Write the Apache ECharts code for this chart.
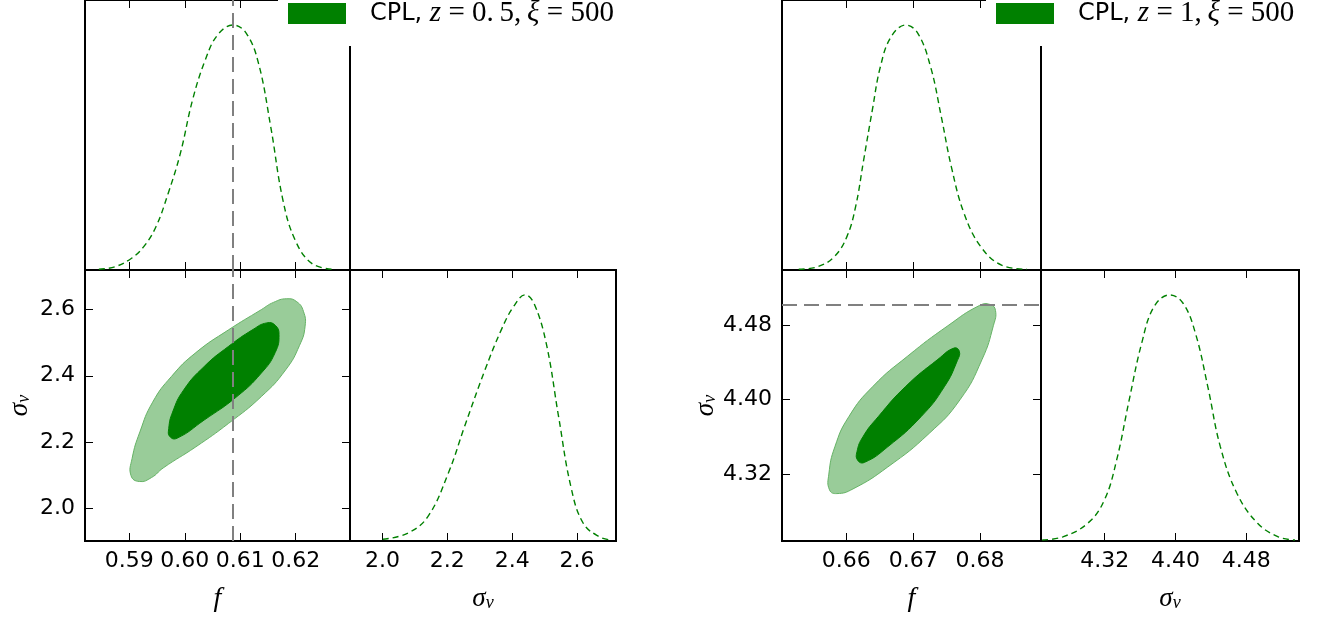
<!DOCTYPE html>
<html><head><meta charset="utf-8">
<script src="https://cdn.jsdelivr.net/npm/echarts@6/dist/echarts.min.js"></script>
<style>html,body{margin:0;padding:0;background:#fff}#c{width:1332px;height:621px}</style>
</head><body><div id="c"></div>
<script>
// ---------- DATA ----------
const legendA = 'CPL, z=0.5, ξ=500';
const legendB = 'CPL, z=1, ξ=500';
const fTicksA = [0.59, 0.60, 0.61, 0.62];
const sTicksA = [2.0, 2.2, 2.4, 2.6];
const fTicksB = [0.66, 0.67, 0.68];
const sTicksB = [4.32, 4.40, 4.48];
const fTrueA = 0.6087;      // fiducial f (left)
const sTrueB = 4.5025;      // fiducial sigma_v (right)

// 1D marginal of f (left), [f, P/Pmax]
const fMargA = [[0.5845,0.003],[0.5874,0.013],[0.5904,0.048],[0.5926,0.095],[0.5948,0.176],[0.5970,0.312],
  [0.5992,0.475],[0.6014,0.693],[0.6037,0.856],[0.6059,0.957],[0.6087,0.998],[0.6111,0.964],[0.6133,0.842],
  [0.6155,0.584],[0.6177,0.285],[0.6199,0.122],[0.6229,0.027],[0.6266,0.003]];
// 1D marginal of sigma_v (left)
const sMargA = [[2.001,0.007],[2.077,0.031],[2.140,0.099],[2.203,0.275],[2.253,0.464],[2.316,0.694],
  [2.366,0.856],[2.404,0.951],[2.440,0.999],[2.467,0.965],[2.505,0.802],[2.543,0.505],[2.581,0.220],
  [2.619,0.072],[2.669,0.017],[2.706,0.004]];
// 2D contours (left): 95% and 68%, [f, sigma_v]
const outerA = [[0.5903,2.098],[0.5918,2.080],[0.5940,2.092],[0.5961,2.121],[0.6020,2.185],[0.6079,2.256],[0.6138,2.337],
  [0.6182,2.418],[0.6207,2.492],[0.6217,2.550],[0.6214,2.595],[0.6202,2.624],[0.6184,2.633],[0.6160,2.622],[0.6138,2.600],
  [0.6079,2.539],[0.6020,2.470],[0.5976,2.398],[0.5942,2.320],[0.5919,2.230],[0.5905,2.150]];
const innerA = [[0.5973,2.216],[0.5986,2.211],[0.6035,2.266],[0.6094,2.337],[0.6138,2.408],[0.6163,2.470],
  [0.6170,2.525],[0.6163,2.553],[0.6148,2.560],[0.6123,2.540],[0.6079,2.489],[0.6035,2.428],[0.5998,2.357],
  [0.5978,2.290],[0.5971,2.240]];

// 1D marginal of f (right)
const fMargB = [[0.6529,0.003],[0.6557,0.013],[0.6582,0.054],[0.6601,0.136],[0.6614,0.258],[0.6626,0.448],
  [0.6639,0.652],[0.6651,0.828],[0.6667,0.950],[0.6689,0.998],[0.6707,0.964],[0.6726,0.828],[0.6742,0.625],
  [0.6757,0.421],[0.6776,0.231],[0.6801,0.095],[0.6832,0.020],[0.6870,0.003]];
// 1D marginal of sigma_v (right)
const sMargB = [[4.2494,0.004],[4.2727,0.017],[4.3008,0.072],[4.3196,0.166],[4.3335,0.329],[4.3476,0.572],
  [4.3617,0.802],[4.3757,0.951],[4.3935,0.999],[4.4085,0.965],[4.4225,0.843],[4.4365,0.626],[4.4506,0.383],
  [4.4693,0.194],[4.4927,0.072],[4.5161,0.017],[4.5349,0.004]];
// 2D contours (right)
const outerB = [[0.6575,4.3030],[0.6586,4.2990],[0.6610,4.3040],[0.6662,4.3276],[0.6724,4.3638],[0.6770,4.4000],
  [0.6803,4.4434],[0.6820,4.4800],[0.6823,4.4960],[0.6815,4.5024],[0.6799,4.5013],[0.6752,4.4796],
  [0.6692,4.4470],[0.6640,4.4144],[0.6604,4.3819],[0.6583,4.3493],[0.6574,4.3200]];
const innerB = [[0.6617,4.3349],[0.6627,4.3325],[0.6662,4.3493],[0.6712,4.3819],[0.6747,4.4144],[0.6766,4.4420],
  [0.6769,4.4520],[0.6761,4.4555],[0.6737,4.4434],[0.6689,4.4144],[0.6648,4.3819],[0.6625,4.3602],[0.6616,4.3440]];

// axis ranges
const fRangeA = [0.582, 0.6298], sRangeA = [1.9, 2.72];
const fRangeB = [0.6504, 0.6891], sRangeB = [4.248, 4.5395];
const pRange = [0, 1.1];

// ---------- STYLE / LAYOUT ----------
const GREEN = '#008000', LIGHT = '#99cc99', GRAY = '#808080';
const tickFont = {color:'#000', fontSize:22, fontFamily:'DejaVu Sans'};
const mathRich = {
  s:{fontFamily:'Liberation Serif', fontStyle:'italic', fontSize:27, color:'#000'},
  v:{fontFamily:'Liberation Serif', fontStyle:'italic', fontSize:18, color:'#000', verticalAlign:'bottom'},
  f:{fontFamily:'Liberation Serif', fontStyle:'italic', fontSize:28, color:'#000'}
};
const gridBox = {show:true, borderColor:'#000', borderWidth:2, backgroundColor:'transparent', containLabel:false};
const grids = [
  {left:85, top:0, width:265, height:270},
  {left:85, top:270, width:265, height:271},
  {left:350, top:270, width:266, height:271},
  {left:782, top:0, width:259, height:270},
  {left:782, top:270, width:259, height:271},
  {left:1041, top:270, width:258, height:271}
].map(g => Object.assign({}, gridBox, g));

function xAx(gi, range, ticks, pos, labels, dec, name) {
  const a = {type:'value', gridIndex:gi, position:pos, min:range[0], max:range[1],
    axisLine:{show:false}, splitLine:{show:false},
    axisTick:{show:true, inside:true, length:8, customValues:ticks, lineStyle:{color:'#000', width:1}},
    axisLabel:{show:labels, customValues:ticks, margin:9, formatter:v => v.toFixed(dec), ...tickFont}};
  if (name) { a.name = name; a.nameLocation = 'middle'; a.nameGap = 44; a.nameTextStyle = {rich:mathRich}; }
  return a;
}
function yAx(gi, range, ticks, pos, labels, dec, name) {
  if (!ticks) return {type:'value', gridIndex:gi, min:range[0], max:range[1], show:false};
  const a = {type:'value', gridIndex:gi, position:pos, min:range[0], max:range[1],
    axisLine:{show:false}, splitLine:{show:false},
    axisTick:{show:true, inside:true, length:8, customValues:ticks, lineStyle:{color:'#000', width:1}},
    axisLabel:{show:labels, customValues:ticks, margin:10, formatter:v => v.toFixed(dec), ...tickFont}};
  if (name) { a.name = name; a.nameLocation = 'middle'; a.nameGap = 52; a.nameRotate = 90; a.nameTextStyle = {rich:mathRich}; }
  return a;
}
const sigName = '{s|σ}{v|v}', fName = '{f|f}';
const xAxis = [
  xAx(0, fRangeA, fTicksA, 'bottom', false, 2), xAx(0, fRangeA, fTicksA, 'top', false, 2),
  xAx(1, fRangeA, fTicksA, 'bottom', true, 2, fName), xAx(1, fRangeA, fTicksA, 'top', false, 2),
  xAx(2, sRangeA, sTicksA, 'bottom', true, 1, sigName), xAx(2, sRangeA, sTicksA, 'top', false, 1),
  xAx(3, fRangeB, fTicksB, 'bottom', false, 2), xAx(3, fRangeB, fTicksB, 'top', false, 2),
  xAx(4, fRangeB, fTicksB, 'bottom', true, 2, fName), xAx(4, fRangeB, fTicksB, 'top', false, 2),
  xAx(5, sRangeB, sTicksB, 'bottom', true, 2, sigName), xAx(5, sRangeB, sTicksB, 'top', false, 2)
];
const yAxis = [
  yAx(0, pRange),
  yAx(1, sRangeA, sTicksA, 'left', true, 1, sigName), yAx(1, sRangeA, sTicksA, 'right', false, 1),
  yAx(2, pRange),
  yAx(3, pRange),
  yAx(4, sRangeB, sTicksB, 'left', true, 2, sigName), yAx(4, sRangeB, sTicksB, 'right', false, 2),
  yAx(5, pRange)
];

function marg(data, xi, yi) {
  return {type:'line', xAxisIndex:xi, yAxisIndex:yi, data, smooth:0.4, showSymbol:false, symbol:'none',
    lineStyle:{color:GREEN, width:1.4, type:[6,4]}, silent:true, z:3};
}
function contour(name, pts, xi, yi, fill, stroke, z) {
  return {type:'custom', name, xAxisIndex:xi, yAxisIndex:yi, z, itemStyle:{color:fill}, silent:true,
    data:[[0,0]], clip:true,
    renderItem:(p, api) => ({type:'polygon', shape:{points:pts.map(q => api.coord(q)), smooth:0.5},
      style:{fill, stroke, lineWidth:1}})};
}
function vline(xi, yi, opt) {
  return {type:'line', xAxisIndex:xi, yAxisIndex:yi, data:[], silent:true, z:5,
    markLine:{symbol:'none', silent:true, animation:false, precision:6, label:{show:false},
      lineStyle:{color:GRAY, width:2, type:[15,7]}, data:[opt]}};
}

const series = [
  marg(fMargA, 0, 0),
  vline(0, 0, {xAxis:fTrueA}),
  contour('outerA', outerA, 2, 1, LIGHT, '#66b366', 2),
  contour(legendA, innerA, 2, 1, GREEN, GREEN, 3),
  vline(2, 1, {xAxis:fTrueA}),
  marg(sMargA, 4, 3),
  marg(fMargB, 6, 4),
  contour('outerB', outerB, 8, 5, LIGHT, '#66b366', 2),
  contour(legendB, innerB, 8, 5, GREEN, GREEN, 3),
  vline(8, 5, {yAxis:sTrueB}),
  marg(sMargB, 10, 7)
];

const legRich = {
  a:{fontFamily:'DejaVu Sans', fontSize:24, color:'#000', padding:[0,0,0,19]},
  m:{fontFamily:'Liberation Serif', fontStyle:'italic', fontSize:29, color:'#000'},
  r:{fontFamily:'Liberation Serif', fontSize:29, color:'#000'}
};
function leg(name, left, fmt) {
  return {data:[{name, icon:'rect'}], left, top:-1, orient:'horizontal', padding:[0,12,18,10],
    backgroundColor:'#fff', itemWidth:58, itemHeight:21, selectedMode:false,
    formatter:() => fmt, textStyle:{rich:legRich}};
}
const legend = [
  leg(legendA, 278, '{a|CPL, }{m|z}{r| = 0.\u20095,\u2009}{m|ξ}{r| = 500}'),
  leg(legendB, 986, '{a|CPL, }{m|z}{r| = 1,\u2009}{m|ξ}{r| = 500}')
];

const chart = echarts.init(document.getElementById('c'), null, {renderer:'canvas'});
chart.setOption({animation:false, backgroundColor:'#fff', grid:grids, xAxis, yAxis, series, legend});
</script></body></html>
